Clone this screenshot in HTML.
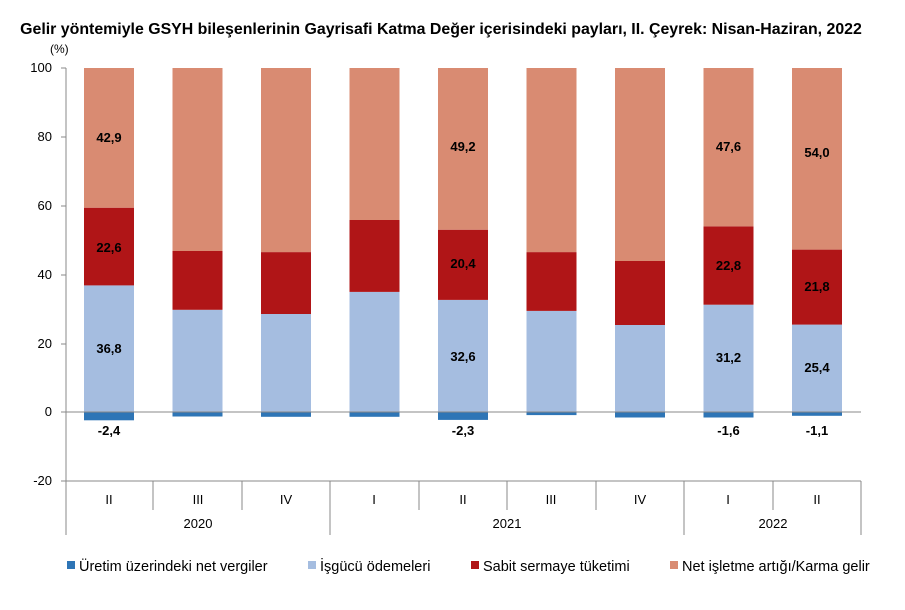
<!DOCTYPE html>
<html><head><meta charset="utf-8"><style>
body{margin:0;background:#fff;width:905px;height:605px;overflow:hidden;font-family:"Liberation Sans",sans-serif}
</style></head><body>
<svg width="905" height="605" xmlns="http://www.w3.org/2000/svg" font-family="Liberation Sans, sans-serif">
<text x="441" y="34" text-anchor="middle" font-size="15.9" font-weight="bold">Gelir yöntemiyle GSYH bileşenlerinin Gayrisafi Katma Değer içerisindeki payları, II. Çeyrek: Nisan-Haziran, 2022</text>
<text x="50" y="53" font-size="12">(%)</text>
<g font-size="13" text-anchor="end" fill="#000">
<text x="52" y="72">100</text><text x="52" y="141">80</text><text x="52" y="210">60</text><text x="52" y="279">40</text><text x="52" y="348">20</text><text x="52" y="416">0</text><text x="52" y="485">-20</text>
</g>
<g>
<rect x="84" y="412" width="50" height="8.3" fill="#2e75b6"/><rect x="84" y="285.4" width="50" height="126.6" fill="#a5bde0"/><rect x="84" y="207.7" width="50" height="77.7" fill="#b01517"/><rect x="84" y="68" width="50" height="139.7" fill="#d98b72"/>
<rect x="172.5" y="412" width="50" height="4.5" fill="#2e75b6"/><rect x="172.5" y="309.8" width="50" height="102.2" fill="#a5bde0"/><rect x="172.5" y="251" width="50" height="58.8" fill="#b01517"/><rect x="172.5" y="68" width="50" height="183" fill="#d98b72"/>
<rect x="261" y="412" width="50" height="4.8" fill="#2e75b6"/><rect x="261" y="314" width="50" height="98" fill="#a5bde0"/><rect x="261" y="252.1" width="50" height="61.9" fill="#b01517"/><rect x="261" y="68" width="50" height="184.1" fill="#d98b72"/>
<rect x="349.5" y="412" width="50" height="4.8" fill="#2e75b6"/><rect x="349.5" y="291.9" width="50" height="120.1" fill="#a5bde0"/><rect x="349.5" y="220" width="50" height="71.9" fill="#b01517"/><rect x="349.5" y="68" width="50" height="152" fill="#d98b72"/>
<rect x="438" y="412" width="50" height="7.9" fill="#2e75b6"/><rect x="438" y="299.9" width="50" height="112.1" fill="#a5bde0"/><rect x="438" y="229.7" width="50" height="70.2" fill="#b01517"/><rect x="438" y="68" width="50" height="161.7" fill="#d98b72"/>
<rect x="526.5" y="412" width="50" height="3.1" fill="#2e75b6"/><rect x="526.5" y="310.9" width="50" height="101.1" fill="#a5bde0"/><rect x="526.5" y="252.1" width="50" height="58.8" fill="#b01517"/><rect x="526.5" y="68" width="50" height="184.1" fill="#d98b72"/>
<rect x="615" y="412" width="50" height="5.5" fill="#2e75b6"/><rect x="615" y="325" width="50" height="87" fill="#a5bde0"/><rect x="615" y="261" width="50" height="64" fill="#b01517"/><rect x="615" y="68" width="50" height="193" fill="#d98b72"/>
<rect x="703.5" y="412" width="50" height="5.5" fill="#2e75b6"/><rect x="703.5" y="304.7" width="50" height="107.3" fill="#a5bde0"/><rect x="703.5" y="226.3" width="50" height="78.4" fill="#b01517"/><rect x="703.5" y="68" width="50" height="158.3" fill="#d98b72"/>
<rect x="792" y="412" width="50" height="3.8" fill="#2e75b6"/><rect x="792" y="324.6" width="50" height="87.4" fill="#a5bde0"/><rect x="792" y="249.6" width="50" height="75" fill="#b01517"/><rect x="792" y="68" width="50" height="181.6" fill="#d98b72"/>
</g>
<line x1="66" y1="68" x2="66" y2="481" stroke="#888"/>
<g stroke="#888"><line x1="61" y1="68" x2="66" y2="68"/><line x1="61" y1="137" x2="66" y2="137"/><line x1="61" y1="206" x2="66" y2="206"/><line x1="61" y1="275" x2="66" y2="275"/><line x1="61" y1="344" x2="66" y2="344"/><line x1="61" y1="412" x2="66" y2="412"/><line x1="61" y1="481" x2="66" y2="481"/></g>
<line x1="66" y1="412" x2="861" y2="412" stroke="#888"/>
<line x1="66" y1="481" x2="861" y2="481" stroke="#888"/>
<g font-size="13" font-weight="bold" text-anchor="middle" fill="#000">
<text x="109" y="142">42,9</text><text x="109" y="252">22,6</text><text x="109" y="353">36,8</text><text x="109" y="435">-2,4</text>
<text x="463" y="151">49,2</text><text x="463" y="268">20,4</text><text x="463" y="361">32,6</text><text x="463" y="435">-2,3</text>
<text x="728.5" y="151">47,6</text><text x="728.5" y="270">22,8</text><text x="728.5" y="362">31,2</text><text x="728.5" y="435">-1,6</text>
<text x="817" y="157">54,0</text><text x="817" y="291">21,8</text><text x="817" y="372">25,4</text><text x="817" y="435">-1,1</text>
</g>
<g stroke="#888">
<line x1="66" y1="481" x2="66" y2="535"/><line x1="153" y1="481" x2="153" y2="510"/><line x1="242" y1="481" x2="242" y2="510"/><line x1="330" y1="481" x2="330" y2="535"/><line x1="419" y1="481" x2="419" y2="510"/><line x1="507" y1="481" x2="507" y2="510"/><line x1="596" y1="481" x2="596" y2="510"/><line x1="684" y1="481" x2="684" y2="535"/><line x1="773" y1="481" x2="773" y2="510"/><line x1="861" y1="481" x2="861" y2="535"/>
</g>
<g font-size="13" text-anchor="middle">
<text x="109" y="504">II</text><text x="198" y="504">III</text><text x="286" y="504">IV</text><text x="374" y="504">I</text><text x="463" y="504">II</text><text x="551" y="504">III</text><text x="640" y="504">IV</text><text x="728" y="504">I</text><text x="817" y="504">II</text>
<text x="198" y="528">2020</text><text x="507" y="528">2021</text><text x="773" y="528">2022</text>
</g>
<g font-size="14.5">
<rect x="67" y="561" width="8" height="8" fill="#2e75b6"/><text x="79" y="571">Üretim üzerindeki net vergiler</text>
<rect x="308" y="561" width="8" height="8" fill="#a5bde0"/><text x="320" y="571">İşgücü ödemeleri</text>
<rect x="471" y="561" width="8" height="8" fill="#b01517"/><text x="483" y="571">Sabit sermaye tüketimi</text>
<rect x="670" y="561" width="8" height="8" fill="#d98b72"/><text x="682" y="571">Net işletme artığı/Karma gelir</text>
</g>
</svg>
</body></html>
